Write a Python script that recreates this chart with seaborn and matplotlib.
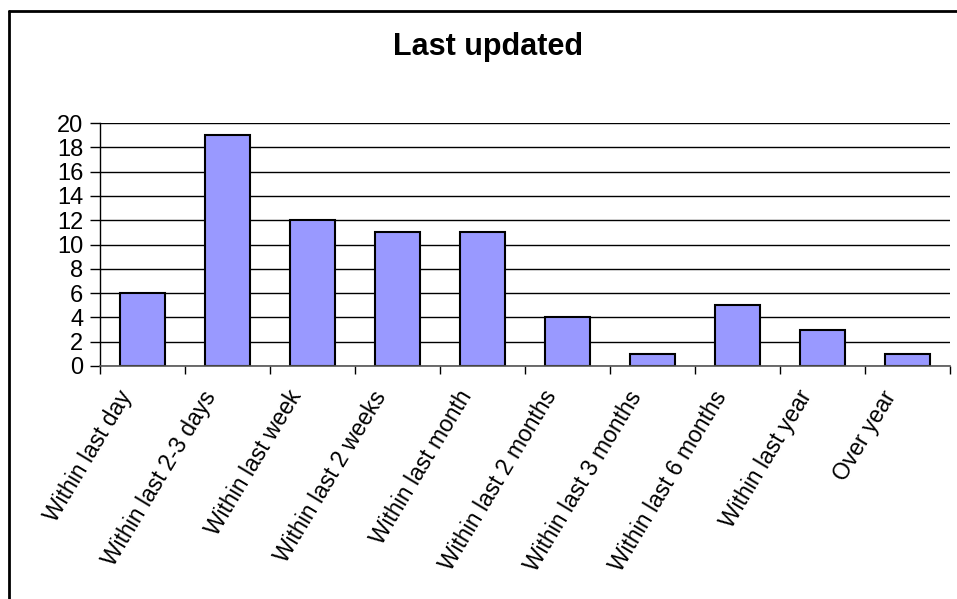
import matplotlib
matplotlib.use("Agg")
import matplotlib.pyplot as plt
from matplotlib.lines import Line2D
from matplotlib.transforms import ScaledTranslation
import seaborn as sns
import pandas as pd
import numpy as np

categories = [
    "Within last day",
    "Within last 2-3 days",
    "Within last week",
    "Within last 2 weeks",
    "Within last month",
    "Within last 2 months",
    "Within last 3 months",
    "Within last 6 months",
    "Within last year",
    "Over year",
]
counts = [6, 19, 12, 11, 11, 4, 1, 5, 3, 1]
y_ticks = [0, 2, 4, 6, 8, 10, 12, 14, 16, 18, 20]

sns.set_theme(style="white")
plt.rcParams["font.family"] = ["Liberation Sans", "DejaVu Sans"]
plt.rcParams["text.color"] = "black"
plt.rcParams["xtick.color"] = "black"
plt.rcParams["ytick.color"] = "black"

df = pd.DataFrame({"period": categories, "count": counts})

W, H = 957, 599
fig = plt.figure(figsize=(W / 100, H / 100), dpi=100)
ax = fig.add_axes([100 / W, (H - 366) / H, 850 / W, (366 - 123) / H])

ax.yaxis.grid(True, color="black", linewidth=1.0)
ax.set_axisbelow(True)

sns.barplot(data=df, x="period", y="count", color="#9999FF", width=0.53,
            edgecolor="black", linewidth=1.5, saturation=1, ax=ax)

ax.set_xlim(-0.5, len(categories) - 0.5)
ax.set_ylim(0, 20)
ax.set_yticks(y_ticks)
ax.set_yticklabels([str(v) for v in y_ticks], fontsize=17)
ax.tick_params(axis="y", which="major", direction="out", length=7,
               width=1, color="black", left=True, pad=5)

ax.set_xticks(range(len(categories)))
ax.set_xticklabels(categories, rotation=59, ha="right", va="center",
                   rotation_mode="anchor", fontsize=16.5)
ax.tick_params(axis="x", which="major", length=0, pad=19)
shift = ScaledTranslation(-16 / 100, 0, fig.dpi_scale_trans)
for lbl in ax.get_xticklabels():
    lbl.set_transform(lbl.get_transform() + shift)
ax.set_xticks(np.arange(-0.5, len(categories)), minor=True)
ax.tick_params(axis="x", which="minor", direction="out", length=6,
               width=1, color="black", bottom=True)

for side in ["top", "right"]:
    ax.spines[side].set_visible(False)
ax.spines["left"].set_color("black")
ax.spines["left"].set_linewidth(1)
ax.spines["bottom"].set_color("#555555")
ax.spines["bottom"].set_linewidth(1.2)

ax.set_xlabel("")
ax.set_ylabel("")

fig.text(488 / W, 1 - 47 / H, "Last updated", ha="center", va="center",
         fontsize=22, fontweight="bold", color="black")

# outer chart frame (left and top edges)
fig.add_artist(Line2D([8.5 / W, 8.5 / W], [0, 1 - 10.5 / H], color="black",
                      linewidth=2, transform=fig.transFigure))
fig.add_artist(Line2D([8.5 / W, 1], [1 - 10.5 / H, 1 - 10.5 / H], color="black",
                      linewidth=2, transform=fig.transFigure))

fig.savefig("out.png", dpi=100, facecolor="white")
